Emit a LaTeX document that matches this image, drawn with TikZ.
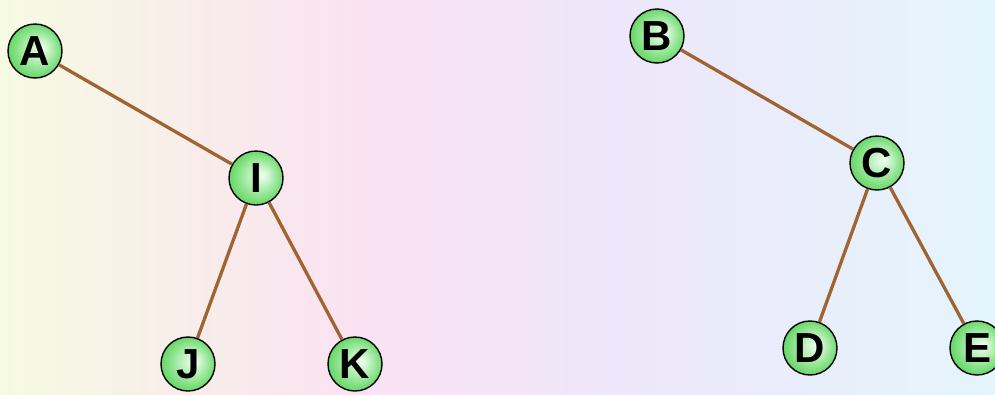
\documentclass[tikz,border=0pt]{standalone}
\usepackage{fontspec}
\setmainfont{Liberation Sans}
\usetikzlibrary{shadings}
\definecolor{bgL}{RGB}{246,250,226}
\definecolor{bgM}{RGB}{250,226,242}
\definecolor{bgN}{RGB}{238,230,250}
\definecolor{bgR}{RGB}{228,245,252}
\definecolor{ballout}{RGB}{80,210,80}
\definecolor{ballin}{RGB}{240,255,240}
\definecolor{edgec}{RGB}{160,100,50}
\pgfdeclarehorizontalshading{bgshade}{100bp}{color(0bp)=(bgL);color(25bp)=(bgL);color(43bp)=(bgM);color(56bp)=(bgN);color(75bp)=(bgR);color(100bp)=(bgR)}
\pgfdeclareradialshading{ballshade}{\pgfpoint{6bp}{3bp}}{color(0bp)=(ballin);color(5bp)=(ballin!85!ballout);color(22bp)=(ballout!75!ballin);color(30bp)=(ballout)}
\tikzset{
  ball/.style={circle, draw=black, line width=1.4pt, minimum size=54pt, inner sep=0pt,
    shading=ballshade, font=\bfseries\fontsize{42}{42}\selectfont},
  edge/.style={draw=edgec, line width=3.3pt}
}
\begin{document}
\begin{tikzpicture}[x=1pt,y=-1pt]
\useasboundingbox (0,0) rectangle (995,394);
\shade[shading=bgshade] (0,0) rectangle (995,394);
\node[ball] (A) at (35,51) {A};
\node[ball] (I) at (256,178) {I};
\node[ball] (J) at (188,364) {J};
\node[ball] (K) at (355,364) {K};
\node[ball] (B) at (657,36) {B};
\node[ball] (C) at (877,163) {C};
\node[ball] (D) at (810,348) {D};
\node[ball] (E) at (977,348) {E};
\draw[edge] (A) -- (I);
\draw[edge] (I) -- (J);
\draw[edge] (I) -- (K);
\draw[edge] (B) -- (C);
\draw[edge] (C) -- (D);
\draw[edge] (C) -- (E);
\end{tikzpicture}
\end{document}
